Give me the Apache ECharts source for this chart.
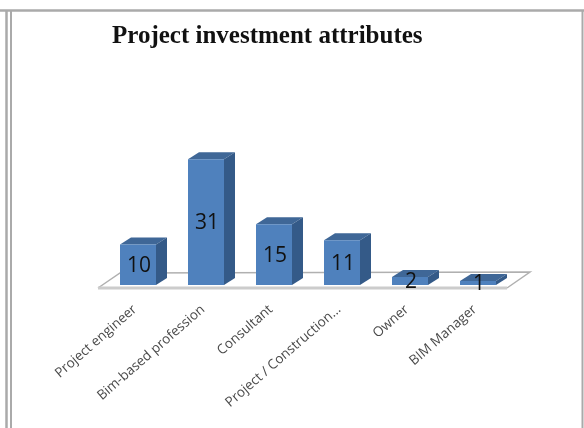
<!DOCTYPE html>
<html>
<head>
<meta charset="utf-8">
<style>html,body{margin:0;padding:0;background:#fff}#chart{width:584px;height:428px}</style>
<script src="https://cdn.jsdelivr.net/npm/echarts@6/dist/echarts.min.js"></script>
</head>
<body>
<div id="chart"></div>
<script>
const titleText = 'Project investment attributes';
const categories = ['Project engineer', 'Bim-based profession', 'Consultant', 'Project / Construction...', 'Owner', 'BIM Manager'];
const values = [10, 31, 15, 11, 2, 1];

// Oblique offset used for the pseudo-3D depth of bars and floor
const DEPTH_X = 11, DEPTH_Y = 7;
const BAR_WIDTH = 36;

function renderFloor(params, api) {
  const band = api.size([1, 0])[0];
  const left = api.coord([0, 0])[0] - band / 2;
  const right = api.coord([categories.length - 1, 0])[0] + band / 2;
  const y = api.coord([0, 0])[1];
  const fl = [left - 6, y + 3], fr = [right - 5, y + 3];
  const bl = [left + 16, y - 12], br = [right + 18, y - 13];
  return {
    type: 'group',
    children: [
      { type: 'polygon', shape: { points: [fl, fr, br, bl] }, style: { fill: '#fff' } },
      { type: 'polyline', shape: { points: [fl, bl, br, fr] }, style: { fill: 'none', stroke: '#b0b0b0', lineWidth: 1.5 } },
      { type: 'line', shape: { x1: fl[0], y1: fl[1], x2: fr[0], y2: fr[1] }, style: { stroke: '#cccccc', lineWidth: 3 } }
    ]
  };
}

function renderBar(params, api) {
  const i = api.value(0), v = api.value(1);
  const [cx, top] = api.coord([i, v]);
  const base = api.coord([i, 0])[1];
  const l = cx - BAR_WIDTH / 2, r = cx + BAR_WIDTH / 2;
  return {
    type: 'group',
    children: [
      { type: 'polygon', shape: { points: [[l, top], [r, top], [r + DEPTH_X, top - DEPTH_Y], [l + DEPTH_X, top - DEPTH_Y]] },
        style: { fill: '#3f6797' } },
      { type: 'polygon', shape: { points: [[r, top], [r + DEPTH_X, top - DEPTH_Y], [r + DEPTH_X, base - DEPTH_Y], [r, base]] },
        style: { fill: '#345a88' } },
      { type: 'rect', shape: { x: l, y: top, width: BAR_WIDTH, height: base - top },
        style: { fill: '#4f81bd' } },
      { type: 'text', x: cx + 1, y: (top + base) / 2 + 1,
        style: { text: String(v), fill: '#111', font: '21px "Open Sans", sans-serif', align: 'center', verticalAlign: 'middle' } }
    ]
  };
}

const chart = echarts.init(document.getElementById('chart'), null, { renderer: 'canvas' });
chart.setOption({
  animation: false,
  backgroundColor: '#fff',
  title: {
    text: titleText, left: 107, top: 19,
    textStyle: { fontFamily: '"Liberation Serif", serif', fontWeight: 'bold', fontSize: 25, color: '#111' }
  },
  grid: { left: 104, top: 143, width: 408, height: 142 },
  xAxis: {
    type: 'category', data: categories,
    axisLine: { show: false }, axisTick: { show: false },
    axisLabel: {
      rotate: 41, interval: 0, margin: 20, color: '#4a4a4a', padding: [0, 4, 0, 0],
      fontFamily: '"Open Sans", sans-serif', fontSize: 13.5
    }
  },
  yAxis: { type: 'value', min: 0, max: 35, show: false },
  graphic: [
    // Double page rule on the left, single rule along the top and right
    { type: 'line', silent: true, shape: { x1: 0, y1: 10.5, x2: 584, y2: 10.5 }, style: { stroke: '#aaaaaa', lineWidth: 2.5 } },
    { type: 'line', silent: true, shape: { x1: 6.5, y1: 10, x2: 6.5, y2: 428 }, style: { stroke: '#aaaaaa', lineWidth: 2.5 } },
    { type: 'line', silent: true, shape: { x1: 11, y1: 10, x2: 11, y2: 428 }, style: { stroke: '#aaaaaa', lineWidth: 2 } },
    { type: 'line', silent: true, shape: { x1: 582.5, y1: 10, x2: 582.5, y2: 428 }, style: { stroke: '#aaaaaa', lineWidth: 2 } }
  ],
  series: [
    { type: 'custom', silent: true, renderItem: renderFloor, data: [[0, 0]], z: 1, clip: false },
    { type: 'custom', silent: true, renderItem: renderBar, data: values.map((v, i) => [i, v]), z: 2, clip: false,
      encode: { x: 0, y: 1 } }
  ]
});
</script>
</body>
</html>
